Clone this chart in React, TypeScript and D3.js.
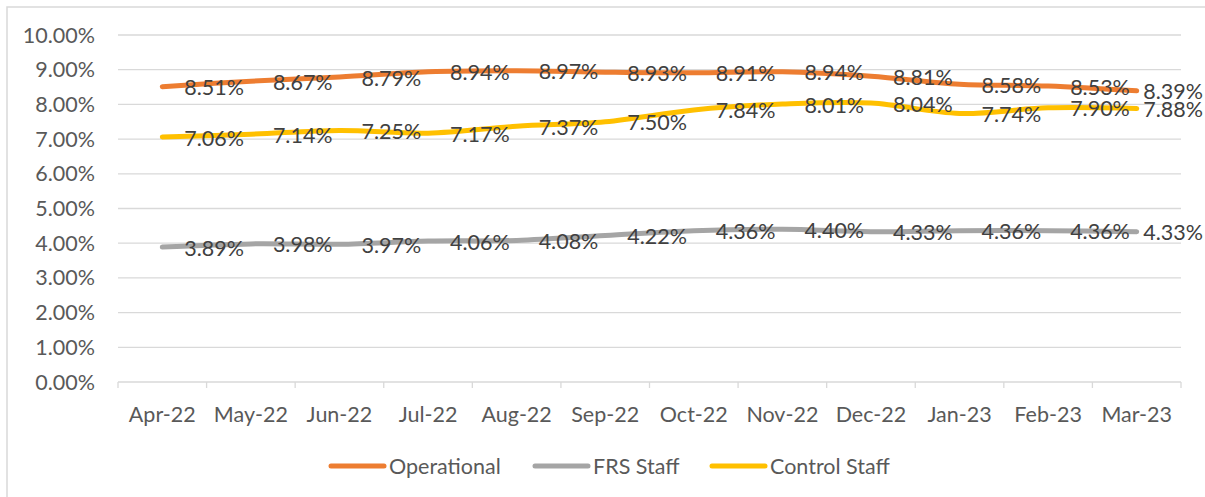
import { useEffect, useRef } from 'react'
import * as d3 from 'd3'

const months = ['Apr-22', 'May-22', 'Jun-22', 'Jul-22', 'Aug-22', 'Sep-22', 'Oct-22', 'Nov-22', 'Dec-22', 'Jan-23', 'Feb-23', 'Mar-23']
const operational = [8.51, 8.67, 8.79, 8.94, 8.97, 8.93, 8.91, 8.94, 8.81, 8.58, 8.53, 8.39]
const frsStaff = [3.89, 3.98, 3.97, 4.06, 4.08, 4.22, 4.36, 4.40, 4.33, 4.36, 4.36, 4.33]
const controlStaff = [7.06, 7.14, 7.25, 7.17, 7.37, 7.50, 7.84, 8.01, 8.04, 7.74, 7.90, 7.88]
const yTicks = [0, 1, 2, 3, 4, 5, 6, 7, 8, 9, 10]

const seriesNames = ['Operational', 'FRS Staff', 'Control Staff']
const seriesColors = ['#ED7D31', '#A5A5A5', '#FFC000']

const width = 1205
const height = 497
const margin = { top: 35, right: 24, bottom: 115, left: 118 }
const font = 'Lato, "Open Sans", sans-serif'
const fontSize = 21.5

export default function App() {
  const svgRef = useRef<SVGSVGElement>(null)

  useEffect(() => {
    if (!svgRef.current) return
    const svg = d3.select(svgRef.current)
    svg.selectAll('*').remove()

    // chart frame
    svg.append('rect')
      .attr('x', 7).attr('y', 7)
      .attr('width', width + 20).attr('height', height + 20)
      .attr('fill', '#fff')
      .attr('stroke', '#d9d9d9').attr('stroke-width', 1.5)

    const x = d3.scaleBand()
      .domain(months)
      .range([margin.left, width - margin.right])

    const y = d3.scaleLinear()
      .domain([0, 10])
      .range([height - margin.bottom, margin.top])

    // gridlines
    svg.append('g')
      .selectAll('line')
      .data(yTicks)
      .join('line')
      .attr('x1', margin.left).attr('x2', width - margin.right)
      .attr('y1', d => y(d)).attr('y2', d => y(d))
      .attr('stroke', '#d9d9d9').attr('stroke-width', 1.3)

    // y labels
    svg.append('g')
      .selectAll('text')
      .data(yTicks)
      .join('text')
      .attr('x', margin.left - 23)
      .attr('y', d => y(d))
      .attr('dy', '0.35em')
      .attr('text-anchor', 'end')
      .attr('font-family', font).attr('font-size', fontSize)
      .attr('fill', '#595959')
      .text(d => d.toFixed(2) + '%')

    // x axis ticks
    const tickXs = [...months.map(m => x(m) as number), width - margin.right]
    svg.append('g')
      .selectAll('line')
      .data(tickXs)
      .join('line')
      .attr('x1', d => d).attr('x2', d => d)
      .attr('y1', y(0)).attr('y2', y(0) + 6)
      .attr('stroke', '#d9d9d9').attr('stroke-width', 1.3)

    svg.append('g')
      .selectAll('text')
      .data(months)
      .join('text')
      .attr('x', d => (x(d) as number) + x.bandwidth() / 2)
      .attr('y', y(0) + 32)
      .attr('dy', '0.35em')
      .attr('text-anchor', 'middle')
      .attr('font-family', font).attr('font-size', fontSize)
      .attr('fill', '#595959')
      .text(d => d)

    const line = d3.line<number>()
      .x((_, i) => (x(months[i]) as number) + x.bandwidth() / 2)
      .y(d => y(d))
      .curve(d3.curveCatmullRom.alpha(0.5))

    const allSeries = [operational, frsStaff, controlStaff]

    allSeries.forEach((values, si) => {
      svg.append('path')
        .datum(values)
        .attr('d', line)
        .attr('fill', 'none')
        .attr('stroke', seriesColors[si])
        .attr('stroke-width', 5)
        .attr('stroke-linecap', 'round')
        .attr('stroke-linejoin', 'round')
    })

    // data labels, kept inside the chart's right edge like Excel does
    const rightLimit = width - 2
    allSeries.forEach(values => {
      svg.append('g')
        .selectAll('text')
        .data(values)
        .join('text')
        .attr('y', d => y(d) + 1)
        .attr('dy', '0.35em')
        .attr('font-family', font).attr('font-size', fontSize)
        .attr('fill', '#404040')
        .text(d => d.toFixed(2) + '%')
        .attr('x', function (_, i) {
          const px = (x(months[i]) as number) + x.bandwidth() / 2 + 22
          const w = (this as SVGTextElement).getComputedTextLength()
          return Math.min(px, rightLimit - w)
        })
    })

    // legend
    const legendX = [331, 535, 712]
    const legend = svg.append('g')
    seriesNames.forEach((name, i) => {
      legend.append('line')
        .attr('x1', legendX[i]).attr('x2', legendX[i] + 53)
        .attr('y1', 466).attr('y2', 466)
        .attr('stroke', seriesColors[i]).attr('stroke-width', 5)
        .attr('stroke-linecap', 'round')
      legend.append('text')
        .attr('x', legendX[i] + 58)
        .attr('y', 466)
        .attr('dy', '0.35em')
        .attr('font-family', font).attr('font-size', fontSize)
        .attr('fill', '#595959')
        .text(name)
    })
  }, [])

  return (
    <svg
      ref={svgRef}
      width={width}
      height={height}
      style={{ position: 'absolute', left: 0, top: 0 }}
    />
  )
}
